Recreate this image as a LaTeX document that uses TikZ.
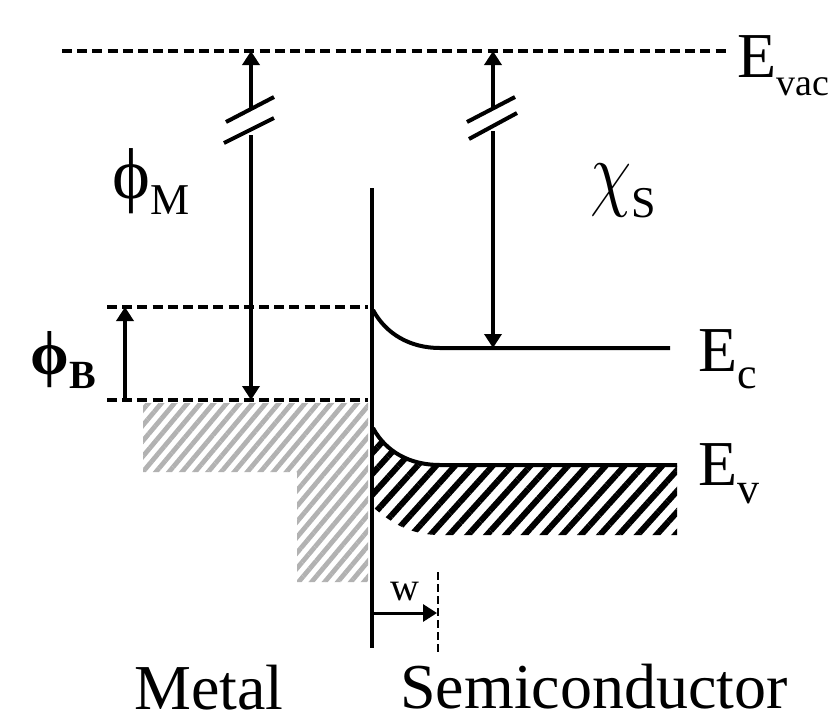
\documentclass[tikz,border=0pt]{standalone}
\usepackage{fontspec}
\setmainfont{Liberation Serif}
\usetikzlibrary{arrows.meta,patterns.meta}
\newcommand\lsub[3]{{\fontsize{#1}{#1}\selectfont\raisebox{-#2}{#3}}}
\begin{document}
\begin{tikzpicture}[x=.5pt,y=-.5pt,>={Triangle[length=7pt,width=8.5pt]},line join=miter,
    band/.style={line width=2pt},
    lvl/.style={line width=1.6pt,dash pattern=on 5pt off 2.6pt},
    lbl/.style={anchor=base west,inner sep=0pt,font=\fontsize{32}{32}\selectfont}]
  \useasboundingbox (0,0) rectangle (832,720);
  % filled states in the metal and in the valence band
  \fill[pattern={Lines[angle=50,distance=5pt,line width=2.4pt]},pattern color=black!30]
    (143,403)--(368,403)--(368,582)--(297,582)--(297,472)--(143,472)--cycle;
  \fill[pattern={Lines[angle=48,distance=7pt,line width=3pt]},pattern color=black]
    (374,428) .. controls (388,452) and (410,465) .. (440,465)--(677,465)
    --(677,535)--(440,535) .. controls (410,535) and (390,522) .. (374,508)--cycle;
  % levels
  \coordinate (vac0) at (62,51);
  \node[lbl] (evac) at (737,77) {E\lsub{19}{9pt}{vac}};
  \draw[lvl] (vac0)--([xshift=-4pt]evac.west |- vac0);
  \coordinate (bar0) at (107,307); \coordinate (bar1) at (368,307);
  \coordinate (ef0) at (107,400); \coordinate (ef1) at (368,400);
  \draw[lvl] (bar0)--(bar1);
  \draw[lvl] (ef0)--(ef1);
  \coordinate (ifc0) at (372,188); \coordinate (ifc1) at (372,648);
  \draw[band] (ifc0)--(ifc1);
  \node[lbl] (ec) at (698,371) {E\lsub{22}{8.5pt}{c}};
  \node[lbl] (ev) at (698,485) {E\lsub{22}{9pt}{v}};
  \coordinate (ecA) at (373,310); \coordinate (ecB) at (440,348); \coordinate (ecC) at (670,348);
  \coordinate (evA) at (373,428); \coordinate (evB) at (440,465); \coordinate (evC) at (677,465);
  \draw[band] (ecA) .. controls (386,334) and (410,348) .. (ecB)--(ecC);
  \draw[band] (evA) .. controls (386,452) and (410,465) .. (evB)--(evC);
  % barrier and work functions
  \draw[band,->] (ef0 -| 125,0)--(bar0 -| 125,0);
  \coordinate (pm0) at (251,110); \coordinate (pm1) at (251,135);
  \draw[band,->] (pm0)--(pm0 |- vac0);
  \draw[band,->] (pm1)--(pm1 |- ef0);
  \draw[band] (226,122)--(274,97) (224,143)--(274,118);
  \coordinate (cs0) at (493,107); \coordinate (cs1) at (493,131);
  \draw[band,->] (cs0)--(cs0 |- vac0);
  \draw[band,->] (cs1)--(cs1 |- ecB);
  \draw[band] (467,122)--(515,97) (469,139)--(517,113);
  \node[lbl,font=\fontsize{36}{36}\selectfont] (phim) at (112,198) {ϕ\lsub{22}{8pt}{M}};
  \node[lbl,font=\fontsize{24}{24}\selectfont] (chis) at (590,200) {\scalebox{1.35}[1.7]{$\chi$}\lsub{22}{8.5pt}{S}};
  \node[lbl,font=\bfseries\fontsize{31}{31}\selectfont] (phib) at (30,374) {ϕ\lsub{20}{7pt}{B}};
  % depletion width
  \coordinate (wd0) at (438,572); \coordinate (wd1) at (438,655);
  \draw[line width=1pt,dash pattern=on 4pt off 2pt] (wd0)--(wd1);
  \draw[line width=1.5pt,->] (372,613)--(437,613);
  \node[lbl,font=\fontsize{20}{20}\selectfont] (w) at (390,600) {w};
  \node[lbl] (metal) at (134,709) {Metal};
  \node[lbl] (semi) at (400,708) {Semiconductor};
\end{tikzpicture}
\end{document}
